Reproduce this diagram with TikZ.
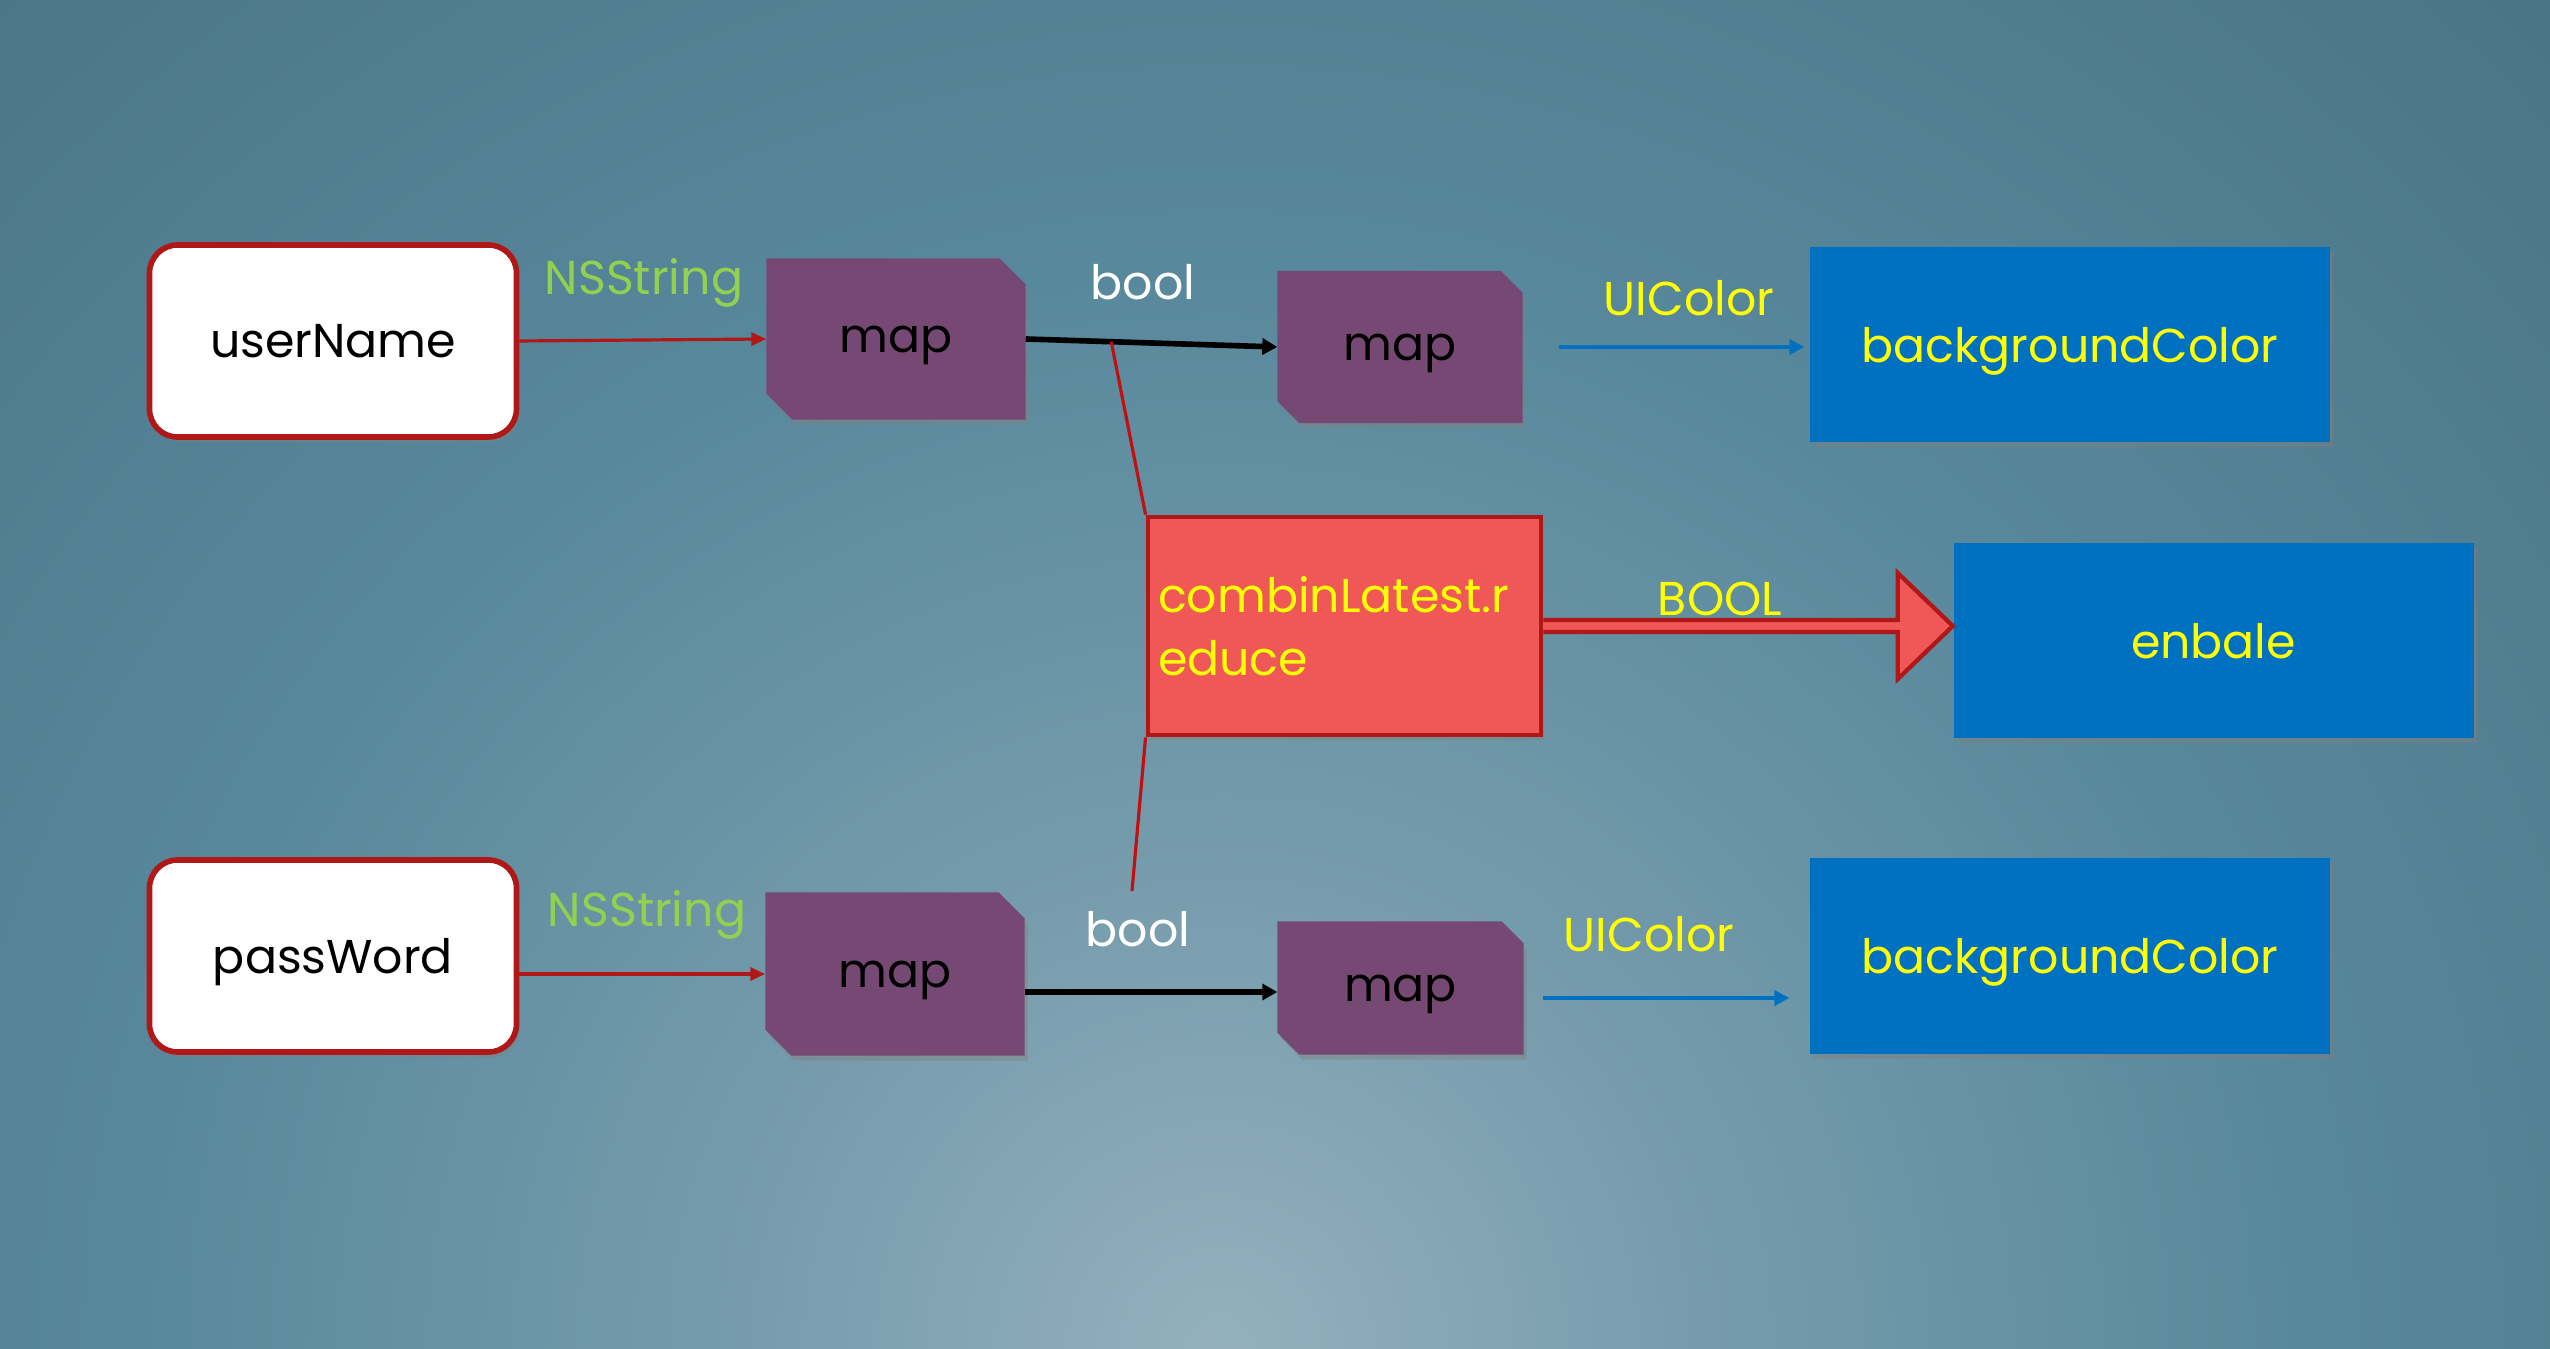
\documentclass[tikz,border=0pt]{standalone}
\usepackage{fontspec}
\setmainfont{Poppins}
\usetikzlibrary{positioning,shadows,calc,arrows.meta}

\definecolor{bgc0}{RGB}{148,176,190}
\definecolor{bgc1}{RGB}{118,156,172}
\definecolor{bgc2}{RGB}{88,136,156}
\definecolor{bgc3}{RGB}{70,109,127}
\definecolor{bgc4}{RGB}{56,84,98}
\definecolor{boxred}{RGB}{176,24,24}
\definecolor{linered}{RGB}{192,16,16}
\definecolor{mappurple}{RGB}{118,73,116}
\definecolor{viewblue}{RGB}{0,112,192}
\definecolor{textyellow}{RGB}{255,255,0}
\definecolor{nsgreen}{RGB}{146,208,80}
\definecolor{combred}{RGB}{240,88,88}

\pgfdeclareradialshading{bgglow}{\pgfpoint{0bp}{0bp}}{color(0bp)=(bgc0); color(4bp)=(bgc1);
    color(9bp)=(bgc2); color(18bp)=(bgc3); color(27bp)=(bgc4); color(50bp)=(bgc4)}

\pgfdeclarelayer{back}
\pgfdeclarelayer{shapes}
\pgfsetlayers{back,shapes,main}

\tikzset{
    txtfont/.style={font=\fontsize{13.5}{18}\selectfont},
    txt/.style={txtfont, text depth=0pt},
    boxshadow/.style={drop shadow={opacity=0.45, shadow xshift=0.03cm, shadow yshift=-0.05cm}},
    srcbox/.style={txt, draw=boxred, line width=1.6pt, fill=white, rounded corners=0.28cm,
        minimum width=3.67cm, minimum height=1.92cm, boxshadow},
    mapbox/.style={txt, inner sep=0pt},
    viewbox/.style={txt, fill=viewblue, text=textyellow, minimum width=5.2cm,
        minimum height=1.95cm, boxshadow},
    combbox/.style={txtfont, draw=boxred, line width=1.4pt, fill=combred, text=textyellow,
        minimum width=3.93cm, minimum height=2.18cm, text width=3.73cm, align=left,
        inner xsep=0.1cm, boxshadow},
    lbl/.style={txt, inner sep=1pt},
    redarrow/.style={draw=boxred, line width=0.9pt, -{Triangle[length=0.15cm,width=0.13cm]}},
    blackarrow/.style={draw=black, line width=1.6pt, -{Triangle[length=0.15cm,width=0.16cm]}},
    bluearrow/.style={draw=viewblue, line width=1.4pt, -{Triangle[length=0.15cm,width=0.15cm]}},
    joinline/.style={draw=linered, line width=0.9pt},
    bigarrow/.style={draw=boxred, line width=1.2pt, fill=combred, line join=miter}
}

\begin{document}
\begin{tikzpicture}
    \useasboundingbox (0,0) rectangle (25.5,13.48);

    % Background
    \begin{pgfonlayer}{back}
        \clip (0,0) rectangle (25.5,13.48);
        \shade[shading=bgglow] (12.2,0) circle (30);
    \end{pgfonlayer}

    % Sources
    \node[srcbox] (user) at (3.33,10.07) {userName};
    \node[srcbox] (pass) at (3.33,3.92) {passWord};

    % Map steps
    \node[mapbox, minimum width=2.58cm, minimum height=1.60cm] (m1a) at (8.96,10.09) {map};
    \node[mapbox, minimum width=2.44cm, minimum height=1.51cm] (m2a) at (14.00,10.01) {map};
    \node[mapbox, minimum width=2.58cm, minimum height=1.62cm] (m1b) at (8.95,3.74) {map};
    \node[mapbox, minimum width=2.45cm, minimum height=1.32cm] (m2b) at (14.005,3.60) {map};

    % Cut corners of the map steps
    \begin{pgfonlayer}{shapes}
        \foreach \m/\c in {m1a/0.26, m2a/0.22, m1b/0.26, m2b/0.22} {
            \fill[mappurple, boxshadow] (\m.north west) -- ([xshift=-\c cm]\m.north east)
                -- ([yshift=-\c cm]\m.north east) -- (\m.south east)
                -- ([xshift=\c cm]\m.south west) -- ([yshift=\c cm]\m.south west) -- cycle;
        }
    \end{pgfonlayer}

    % Targets
    \node[viewbox] (bga) at (20.70,10.035) {backgroundColor};
    \node[viewbox] (bgb) at (20.70,3.92) {backgroundColor};
    \node[viewbox] (enb) at (22.135,7.075) {enbale};

    % Combine step
    \node[combbox] (comb) at (13.445,7.22) {combinLatest.r\\educe};

    % Labels
    \node[lbl, text=nsgreen] (nsa) at (6.44,10.72) {NSString};
    \node[lbl, text=white] (boola) at (11.43,10.66) {bool};
    \node[lbl, text=textyellow] (uica) at (16.89,10.50) {UIColor};
    \node[lbl, text=nsgreen] (nsb) at (6.47,4.40) {NSString};
    \node[lbl, text=white] (boolb) at (11.38,4.19) {bool};
    \node[lbl, text=textyellow] (uicb) at (16.49,4.14) {UIColor};
    \node[lbl, text=textyellow] (boolc) at (17.20,7.49) {BOOL};

    % Top row
    \draw[redarrow] (user.east) -- (m1a.west);
    \draw[blackarrow] (m1a.east) -- (m2a.west);
    \draw[bluearrow, shorten <=0.36cm, shorten >=0.05cm] (m2a.east) -- (m2a.east -| bga.west);

    % Bottom row
    \coordinate (m1bout) at ([yshift=-0.18cm]m1b.east);
    \coordinate (m2bout) at ([yshift=-0.1cm]m2b.east);
    \draw[redarrow] (pass.east |- m1b.west) -- (m1b.west);
    \draw[blackarrow] (m1bout) -- (m1bout -| m2b.west);
    \draw[bluearrow, shorten <=0.19cm, shorten >=0.2cm] (m2bout) -- (m2bout -| bgb.west);

    % Lines into the combine step
    \coordinate (jointop) at ($(m1a.east)!0.34!(m2a.west)$);
    \coordinate (joinbot) at (11.32,4.57);
    \draw[joinline] (jointop) -- (comb.north west);
    \draw[joinline] (comb.south west) -- (joinbot);

    % Big arrow to enbale
    \coordinate (tip) at (enb.west |- comb.east);
    \draw[bigarrow] ([yshift=0.06cm]comb.east) -- ($(tip)+(-0.55,0.06)$) -- ($(tip)+(-0.55,0.53)$)
        -- (tip) -- ($(tip)+(-0.55,-0.53)$) -- ($(tip)+(-0.55,-0.06)$) -- ([yshift=-0.06cm]comb.east);

\end{tikzpicture}
\end{document}
